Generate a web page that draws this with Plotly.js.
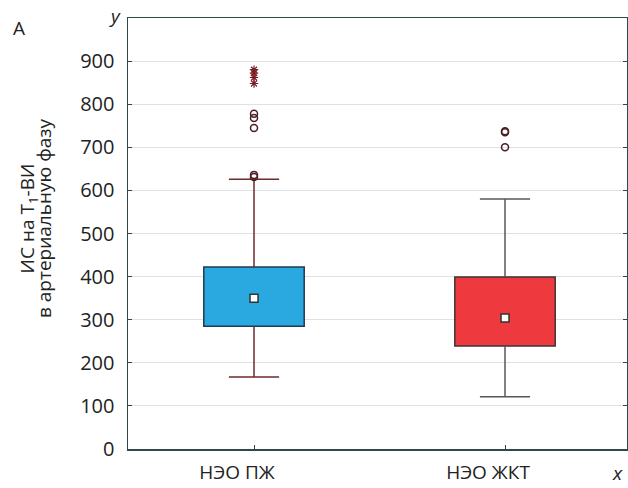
<!DOCTYPE html>
<html>
<head>
<meta charset="utf-8">
<script src="https://cdn.plot.ly/plotly-3.0.1.min.js"></script>
<style>html,body{margin:0;padding:0;background:#fff;}#chart{width:628px;height:488px;}</style>
</head>
<body>
<div id="chart"></div>
<script>
// ---- data ----
var categories = ["НЭО ПЖ", "НЭО ЖКТ"];
var q1Values = [285, 239];
var q3Values = [422, 399];
var medianValues = [350, 304];
var lowerWhisker = [167, 121];
var upperWhisker = [626, 580];
var outliersPZh = [631, 636, 745, 768, 778];
var extremesPZh = [848, 862, 872, 880];
var outliersZhKT = [700, 735, 737];
var extremesZhKT = [];
var yTickValues = [0, 100, 200, 300, 400, 500, 600, 700, 800, 900];
var yTitleLines = ["ИС на T<sub>1</sub>-ВИ", "в артериальную фазу"];

// ---- styling ----
var fills = ["#2aa8e0", "#ee3a3f"];
var outlines = ["#1f3a52", "#3e3434"];
var whiskerColors = ["#6e2b2b", "#5a5656"];
var boxWidth = 0.4;
var capHalf = 0.1;
var fontFam = "Open Sans, sans-serif";

var traces = [];
var idx = categories.map(function (c, i) { return i; });

categories.forEach(function (c, i) {
  traces.push({
    type: "bar",
    x: [i],
    base: [q1Values[i]],
    y: [q3Values[i] - q1Values[i]],
    width: boxWidth,
    marker: { color: fills[i], line: { color: outlines[i], width: 1.5 } },
    hoverinfo: "skip",
    showlegend: false
  });
  traces.push({
    type: "scatter",
    mode: "lines",
    x: [i, i, null, i, i, null, i - capHalf, i + capHalf, null, i - capHalf, i + capHalf],
    y: [q3Values[i], upperWhisker[i], null, q1Values[i], lowerWhisker[i], null,
        upperWhisker[i], upperWhisker[i], null, lowerWhisker[i], lowerWhisker[i]],
    line: { color: whiskerColors[i], width: 1.5 },
    hoverinfo: "skip",
    showlegend: false
  });
});

traces.push({
  type: "scatter",
  mode: "markers",
  x: idx,
  y: medianValues,
  marker: { symbol: "square", size: 8, color: "#ffffff", line: { color: "#333333", width: 1.5 } },
  showlegend: false
});

var outlierSets = [outliersPZh, outliersZhKT];
var extremeSets = [extremesPZh, extremesZhKT];
outlierSets.forEach(function (arr, i) {
  traces.push({
    type: "scatter", mode: "markers",
    x: arr.map(function () { return i; }), y: arr,
    marker: { symbol: "circle-open", size: 7, color: "#4a1e22", line: { width: 1.5 } },
    showlegend: false
  });
});
extremeSets.forEach(function (arr, i) {
  if (!arr.length) return;
  traces.push({
    type: "scatter", mode: "markers",
    x: arr.map(function () { return i; }), y: arr,
    marker: { symbol: "asterisk-open", size: 7, color: "#7a1a24", line: { width: 1.2, color: "#7a1a24" } },
    showlegend: false
  });
});

var layout = {
  width: 628, height: 488,
  margin: { l: 128, r: 1, t: 18, b: 39 },
  paper_bgcolor: "#ffffff", plot_bgcolor: "#ffffff",
  font: { family: fontFam, size: 20, color: "#222222" },
  showlegend: false,
  barmode: "overlay",
  xaxis: {
    range: [-0.502, 1.486],
    tickvals: idx, ticktext: categories,
    showgrid: false, zeroline: false,
    showline: true, linecolor: "#2d4a48", linewidth: 1.5, mirror: true,
    ticks: "inside", ticklen: 4, tickcolor: "#2d4a48",
    tickfont: { size: 19 },
    ticklabelstandoff: 6,
    ticklabelshift: -17
  },
  yaxis: {
    range: [0, 1000],
    tickvals: yTickValues,
    showgrid: true, gridcolor: "#dde2e4", gridwidth: 1,
    zeroline: false,
    showline: true, linecolor: "#2d4a48", linewidth: 1.5, mirror: "ticks",
    ticks: "inside", ticklen: 4, tickcolor: "#2d4a48",
    tickfont: { size: 20 },
    ticklabelstandoff: 8
  },
  annotations: [
    { xref: "paper", yref: "paper", x: -0.2004, y: 0.535, xanchor: "center", yanchor: "middle",
      text: yTitleLines[0], textangle: -90, showarrow: false, font: { size: 19 } },
    { xref: "paper", yref: "paper", x: -0.167, y: 0.535, xanchor: "center", yanchor: "middle",
      text: yTitleLines[1], textangle: -90, showarrow: false, font: { size: 19 } },
    { xref: "paper", yref: "paper", x: -0.218, y: 0.977, xanchor: "center", yanchor: "middle",
      text: "A", showarrow: false, font: { size: 19 } },
    { xref: "paper", yref: "paper", x: -0.026, y: 1.005, xanchor: "center", yanchor: "middle",
      text: "<i>y</i>", showarrow: false, font: { size: 19 } },
    { xref: "paper", yref: "paper", x: 0.98, y: -0.056, xanchor: "center", yanchor: "middle",
      text: "<i>x</i>", showarrow: false, font: { size: 19 } }
  ]
};

Plotly.newPlot("chart", traces, layout, { displayModeBar: false, staticPlot: true });
</script>
</body>
</html>
